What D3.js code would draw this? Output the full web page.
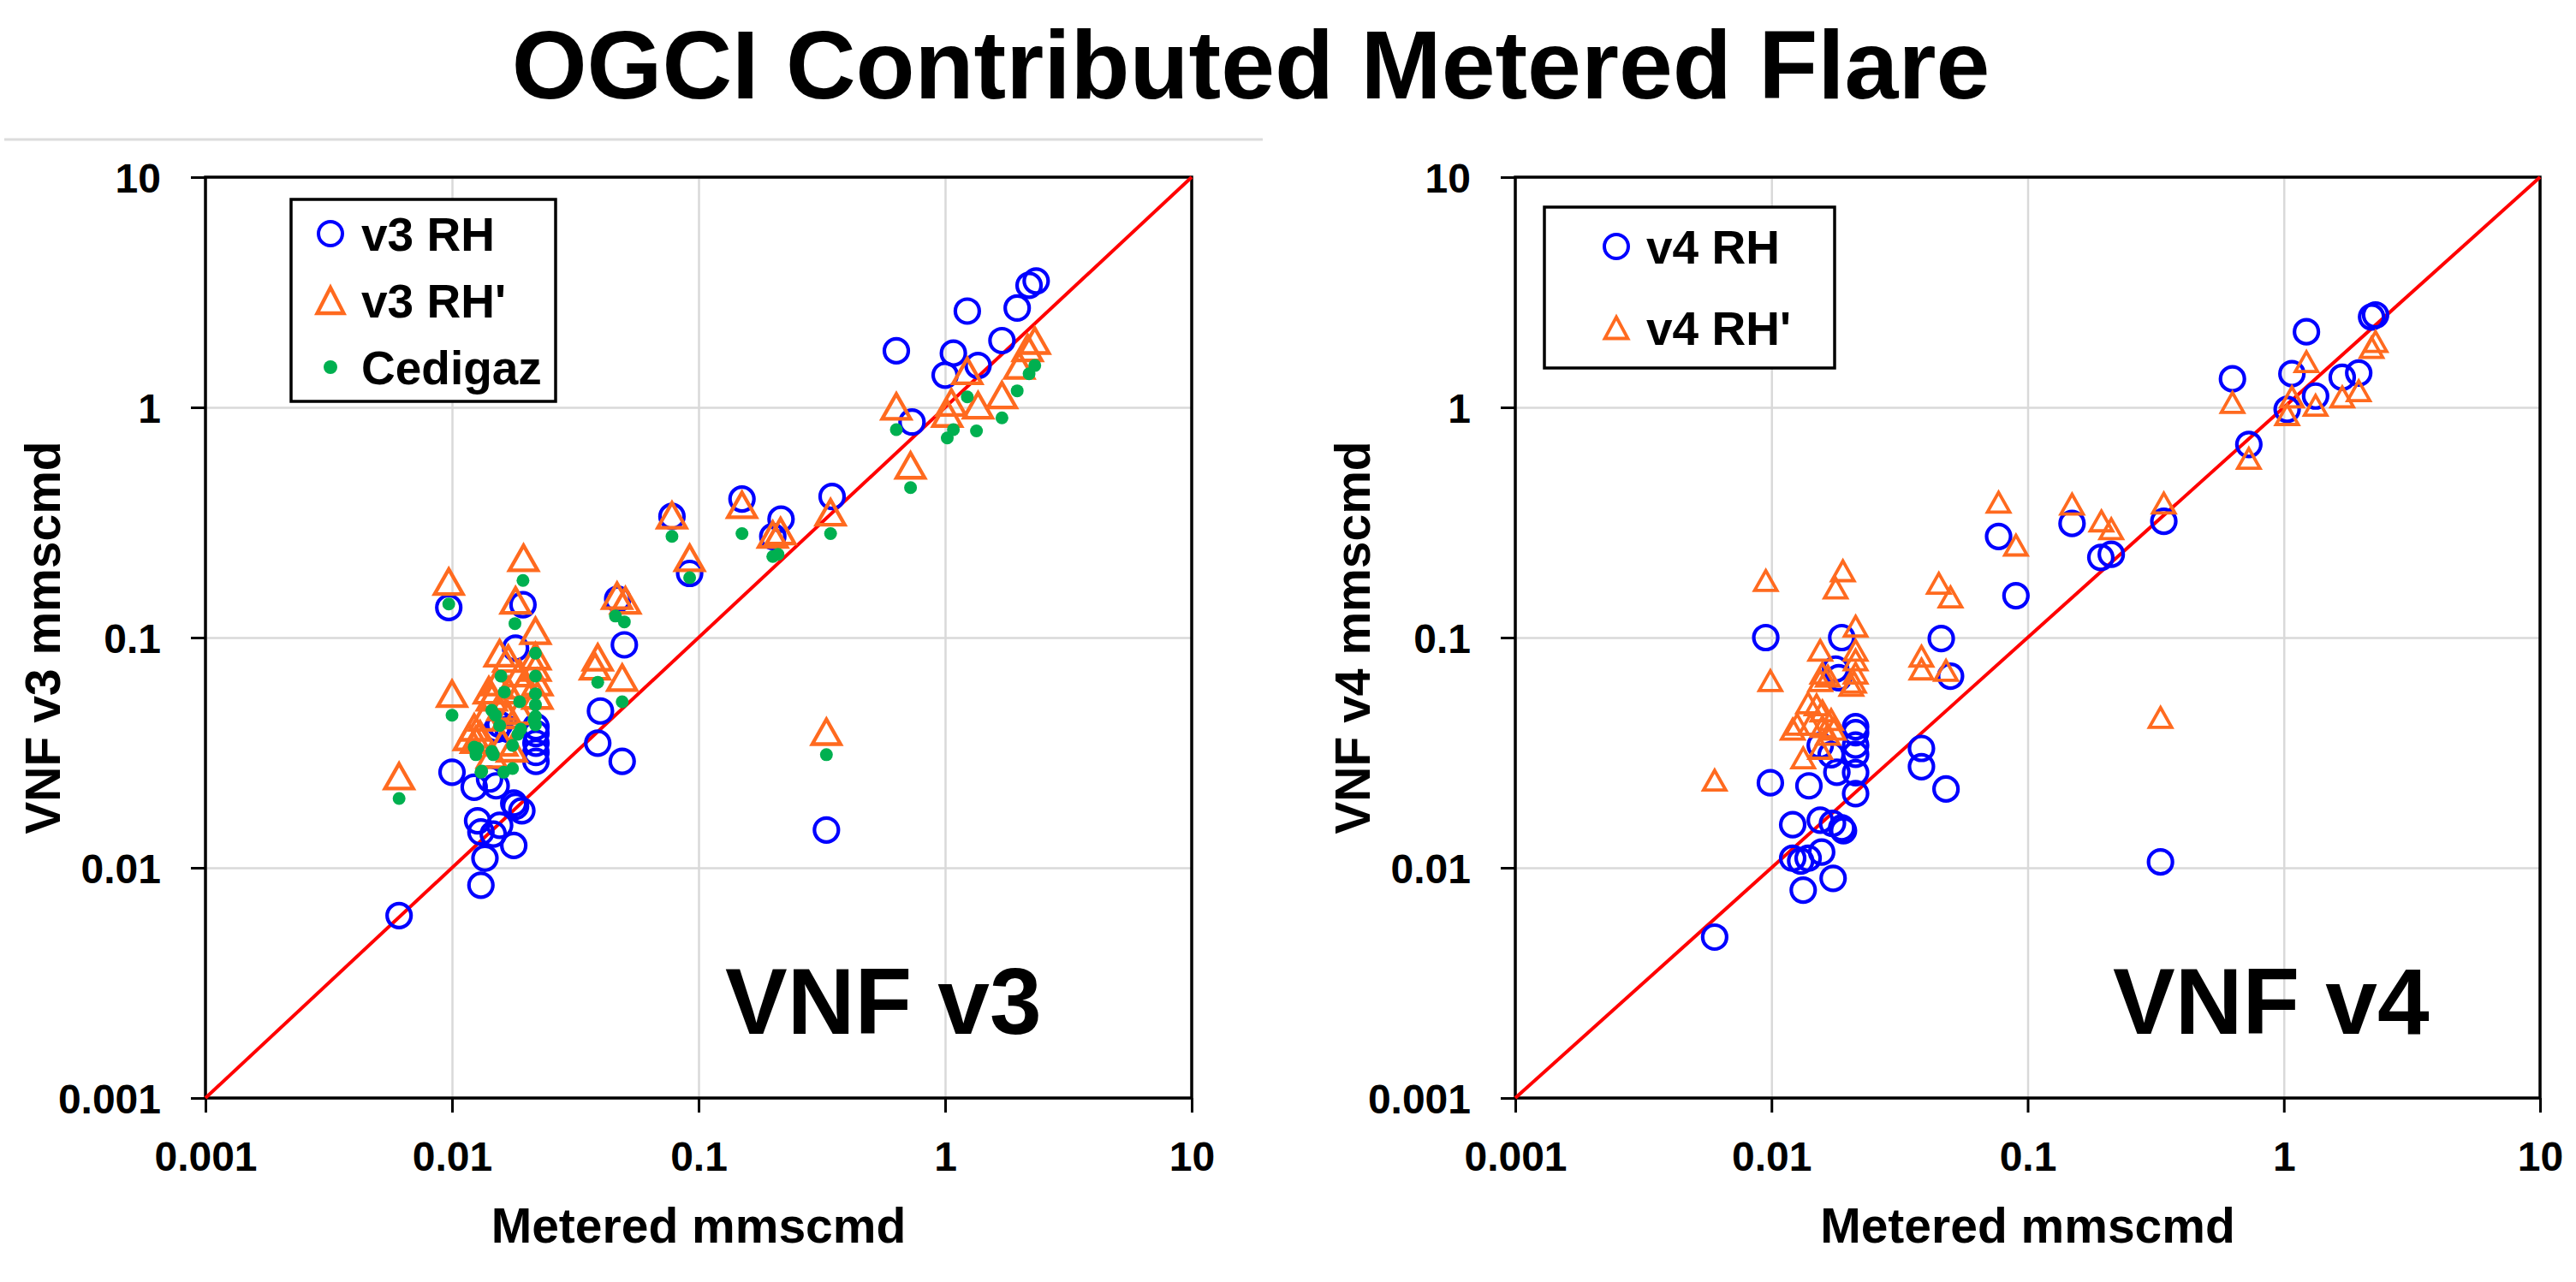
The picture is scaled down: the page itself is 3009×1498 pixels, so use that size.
<!DOCTYPE html>
<html>
<head>
<meta charset="utf-8">
<script src="https://cdn.jsdelivr.net/npm/d3@7"></script>
<style>
  body { margin: 0; background: #fff; }
  text { font-family: "Liberation Sans", Arial, sans-serif; font-weight: bold; fill: #000; }
</style>
</head>
<body>
<div id="chart"></div>
<script>
// axis ticks (log decades) shared by both panels
var tickValues = [0.001, 0.01, 0.1, 1, 10];
var tickLabels = ["0.001", "0.01", "0.1", "1", "10"];
var oneToOne = [0.001, 10];

// VNF v3 panel: [metered, VNF] in mmscmd
var v3RH = [
    [0.0061, 0.0062], [0.0097, 0.135], [0.0100, 0.026], [0.0123, 0.0224], [0.0127, 0.016],
    [0.0131, 0.0084], [0.0131, 0.0143], [0.0136, 0.011], [0.0142, 0.0243], [0.0147, 0.014],
    [0.0151, 0.0227], [0.0152, 0.040], [0.0156, 0.0153], [0.0156, 0.042], [0.0169, 0.040],
    [0.0178, 0.0125], [0.0178, 0.0191], [0.0181, 0.0185], [0.0192, 0.0177], [0.0181, 0.09],
    [0.0194, 0.139], [0.0219, 0.029], [0.0219, 0.0317], [0.0219, 0.0348], [0.0219, 0.0383],
    [0.0219, 0.041], [0.039, 0.0348], [0.040, 0.048], [0.047, 0.147], [0.049, 0.029],
    [0.050, 0.093], [0.078, 0.336], [0.092, 0.19], [0.15, 0.40], [0.20, 0.275],
    [0.216, 0.327], [0.33, 0.0146], [0.348, 0.41], [0.634, 1.76], [0.734, 0.863],
    [1.0, 1.38], [1.08, 1.72], [1.23, 2.62], [1.36, 1.52], [1.70, 1.95],
    [1.96, 2.70], [2.19, 3.39], [2.34, 3.54]
];
var v3RHp = [
    [0.0061, 0.025], [0.0097, 0.175], [0.0100, 0.057], [0.0117, 0.037], [0.0123, 0.0407],
    [0.0125, 0.036], [0.013, 0.038], [0.0135, 0.045], [0.0141, 0.059], [0.0145, 0.031],
    [0.0145, 0.055], [0.0152, 0.064], [0.0156, 0.0855], [0.016, 0.035], [0.016, 0.05],
    [0.0169, 0.081], [0.0169, 0.059], [0.0169, 0.046], [0.0175, 0.033], [0.0181, 0.145],
    [0.0188, 0.070], [0.0188, 0.048], [0.0194, 0.062], [0.0195, 0.222], [0.0218, 0.107],
    [0.0218, 0.083], [0.0218, 0.074], [0.0222, 0.064], [0.0222, 0.056], [0.038, 0.075],
    [0.039, 0.082], [0.0467, 0.152], [0.049, 0.067], [0.0505, 0.145], [0.078, 0.34],
    [0.092, 0.222], [0.15, 0.377], [0.20, 0.28], [0.215, 0.29], [0.33, 0.039],
    [0.343, 0.35], [0.634, 1.01], [0.724, 0.56], [1.02, 0.94], [1.06, 1.05],
    [1.23, 1.44], [1.36, 1.02], [1.70, 1.13], [2.0, 1.52], [2.16, 1.81], [2.31, 1.95]
];
var cedigaz = [
    [0.0061, 0.020], [0.0097, 0.14], [0.0100, 0.046], [0.0123, 0.0334], [0.0125, 0.031],
    [0.0127, 0.033], [0.0131, 0.026], [0.0132, 0.0263], [0.0145, 0.032], [0.0145, 0.0483],
    [0.0147, 0.031], [0.015, 0.046], [0.0156, 0.0415], [0.0158, 0.068], [0.0162, 0.026],
    [0.0163, 0.058], [0.0176, 0.027], [0.0176, 0.034], [0.018, 0.115], [0.0185, 0.038],
    [0.0188, 0.0526], [0.019, 0.040], [0.0194, 0.177], [0.0215, 0.044], [0.0218, 0.0418],
    [0.0218, 0.0455], [0.0218, 0.051], [0.0218, 0.057], [0.0218, 0.068], [0.0218, 0.0855],
    [0.039, 0.064], [0.046, 0.124], [0.049, 0.0526], [0.050, 0.117], [0.078, 0.275],
    [0.092, 0.182], [0.15, 0.283], [0.20, 0.225], [0.21, 0.23], [0.33, 0.031],
    [0.343, 0.283], [0.634, 0.80], [0.724, 0.448], [1.02, 0.736], [1.08, 0.80],
    [1.23, 1.11], [1.34, 0.79], [1.70, 0.90], [1.96, 1.18], [2.19, 1.40], [2.31, 1.52]
];

// VNF v4 panel
var v4RH = [
    [0.006, 0.005], [0.0095, 0.10], [0.0099, 0.0234], [0.0121, 0.011], [0.0121, 0.0154],
    [0.013, 0.0107], [0.0133, 0.008], [0.0139, 0.011], [0.014, 0.0227], [0.0155, 0.0161],
    [0.0155, 0.034], [0.0157, 0.0117], [0.0171, 0.031], [0.0173, 0.0156], [0.0174, 0.009],
    [0.0178, 0.073], [0.018, 0.026], [0.0183, 0.067], [0.0188, 0.0149], [0.0188, 0.10],
    [0.0191, 0.0145], [0.0213, 0.021], [0.0213, 0.0259], [0.0213, 0.0311], [0.0213, 0.0341],
    [0.0213, 0.0386], [0.0213, 0.041], [0.0385, 0.0275], [0.0385, 0.033], [0.046, 0.099],
    [0.048, 0.022], [0.050, 0.068], [0.077, 0.275], [0.09, 0.152], [0.149, 0.313],
    [0.193, 0.223], [0.212, 0.23], [0.33, 0.0106], [0.34, 0.32], [0.63, 1.33],
    [0.73, 0.69], [1.03, 0.98], [1.075, 1.40], [1.225, 2.13], [1.33, 1.12],
    [1.69, 1.35], [1.96, 1.41], [2.20, 2.47], [2.28, 2.52]
];
var v4RHp = [
    [0.006, 0.024], [0.0095, 0.177], [0.0099, 0.065], [0.0121, 0.040], [0.0126, 0.042],
    [0.0133, 0.030], [0.0139, 0.052], [0.0142, 0.042], [0.015, 0.051], [0.0155, 0.033],
    [0.0155, 0.065], [0.0155, 0.088], [0.0158, 0.041], [0.0158, 0.048], [0.0158, 0.070],
    [0.0166, 0.038], [0.0166, 0.068], [0.0171, 0.044], [0.0175, 0.040], [0.0178, 0.164],
    [0.019, 0.195], [0.0205, 0.062], [0.021, 0.064], [0.0213, 0.070], [0.0213, 0.080],
    [0.0213, 0.088], [0.0213, 0.112], [0.0385, 0.073], [0.0385, 0.083], [0.045, 0.172],
    [0.048, 0.072], [0.050, 0.150], [0.077, 0.387], [0.09, 0.252], [0.149, 0.38],
    [0.194, 0.321], [0.212, 0.297], [0.33, 0.045], [0.34, 0.384], [0.63, 1.05],
    [0.73, 0.60], [1.03, 0.93], [1.075, 1.11], [1.225, 1.58], [1.33, 1.02],
    [1.69, 1.11], [1.96, 1.18], [2.20, 1.82], [2.28, 1.93]
];

var W = 3009, H = 1498;
var BLUE = "#0000ff", ORANGE = "#ff6a1f", GREEN = "#00b050", RED = "#ff0000", GRID = "#d9d9d9";

var svg = d3.select("#chart").append("svg")
    .attr("width", W)
    .attr("height", H);

// triangle centred on its bounding box
function tri(w, h) {
    return "M0," + (-h / 2) + "L" + (w / 2) + "," + (h / 2) + "L" + (-w / 2) + "," + (h / 2) + "Z";
}

// main title
svg.append("text")
    .attr("x", 1461)
    .attr("y", 115)
    .attr("text-anchor", "middle")
    .attr("font-size", "113px")
    .text("OGCI Contributed Metered Flare");

// faint frame edge under the title
svg.append("line")
    .attr("x1", 5).attr("x2", 1475)
    .attr("y1", 163).attr("y2", 163)
    .attr("stroke", "#dcdcdc")
    .attr("stroke-width", 3);

function drawPanel(p) {
    var x = d3.scaleLog().domain([0.001, 10]).range([p.left, p.right]);
    var y = d3.scaleLog().domain([0.001, 10]).range([p.bottom, p.top]);
    var h = p.bottom - p.top, w = p.right - p.left;
    var g = svg.append("g");

    // gridlines
    g.append("g")
        .attr("transform", `translate(0,${p.bottom})`)
        .call(d3.axisBottom(x).tickValues(tickValues).tickSize(-h).tickFormat(""))
        .call(a => a.select(".domain").remove())
        .selectAll("line").attr("stroke", GRID).attr("stroke-width", 2.5);
    g.append("g")
        .attr("transform", `translate(${p.left},0)`)
        .call(d3.axisLeft(y).tickValues(tickValues).tickSize(-w).tickFormat(""))
        .call(a => a.select(".domain").remove())
        .selectAll("line").attr("stroke", GRID).attr("stroke-width", 2.5);

    // axes with outside ticks
    var xa = g.append("g")
        .attr("transform", `translate(0,${p.bottom})`)
        .call(d3.axisBottom(x).tickValues(tickValues).tickFormat((d, i) => tickLabels[i]).tickSize(17).tickSizeOuter(0));
    xa.selectAll("line").attr("stroke", "#000").attr("stroke-width", 3);
    xa.selectAll("text").attr("y", 85).attr("dy", null).attr("font-size", "48px")
        .style("font-family", '"Liberation Sans", Arial, sans-serif').style("font-weight", "bold");
    xa.select(".domain").remove();

    var ya = g.append("g")
        .attr("transform", `translate(${p.left},0)`)
        .call(d3.axisLeft(y).tickValues(tickValues).tickFormat((d, i) => tickLabels[i]).tickSize(17).tickSizeOuter(0));
    ya.selectAll("line").attr("stroke", "#000").attr("stroke-width", 3);
    ya.selectAll("text").attr("x", -52).attr("dy", "0.36em").attr("font-size", "48px")
        .style("font-family", '"Liberation Sans", Arial, sans-serif').style("font-weight", "bold");
    ya.select(".domain").remove();

    // plot frame
    g.append("rect")
        .attr("x", p.left).attr("y", p.top)
        .attr("width", w).attr("height", h)
        .attr("fill", "none")
        .attr("stroke", "#000")
        .attr("stroke-width", 3.5);

    // 1:1 line
    g.append("line")
        .attr("x1", x(oneToOne[0])).attr("y1", y(oneToOne[0]))
        .attr("x2", x(oneToOne[1])).attr("y2", y(oneToOne[1]))
        .attr("stroke", RED)
        .attr("stroke-width", 4);

    // series: circles, then triangles, then dots
    g.append("g").selectAll("circle")
        .data(p.rh).enter().append("circle")
        .attr("cx", d => x(d[0])).attr("cy", d => y(d[1]))
        .attr("r", 14)
        .attr("fill", "none")
        .attr("stroke", BLUE)
        .attr("stroke-width", 4.2);

    g.append("g").selectAll("path")
        .data(p.rhp).enter().append("path")
        .attr("transform", d => `translate(${x(d[0])},${y(d[1])})`)
        .attr("d", tri(p.triW, p.triH))
        .attr("fill", "none")
        .attr("stroke", ORANGE)
        .attr("stroke-width", p.triSW)
        .attr("stroke-linejoin", "miter");

    if (p.ced) {
        g.append("g").selectAll("circle")
            .data(p.ced).enter().append("circle")
            .attr("cx", d => x(d[0])).attr("cy", d => y(d[1]))
            .attr("r", 7.5)
            .attr("fill", GREEN);
    }

    // axis titles
    g.append("text")
        .attr("x", (p.left + p.right) / 2)
        .attr("y", 1452)
        .attr("text-anchor", "middle")
        .attr("font-size", "57px")
        .text("Metered mmscmd");
    g.append("text")
        .attr("transform", `translate(${p.yTitleX},${(p.top + p.bottom) / 2}) rotate(-90)`)
        .attr("text-anchor", "middle")
        .attr("font-size", "57px")
        .text(p.yTitle);

    // version label inside plot
    g.append("text")
        .attr("x", p.noteX)
        .attr("y", 1208)
        .attr("font-size", "109px")
        .text(p.note);

    // legend
    var lg = g.append("g");
    lg.append("rect")
        .attr("x", p.leg.x).attr("y", p.leg.y)
        .attr("width", p.leg.w).attr("height", p.leg.h)
        .attr("fill", "#fff")
        .attr("stroke", "#000")
        .attr("stroke-width", 3.5);
    p.leg.items.forEach(function (it, i) {
        var cy = p.leg.rows[i];
        if (it.type === "circle") {
            lg.append("circle").attr("cx", p.leg.mx).attr("cy", cy).attr("r", 14)
                .attr("fill", "none").attr("stroke", BLUE).attr("stroke-width", 4);
        } else if (it.type === "tri") {
            lg.append("path").attr("transform", `translate(${p.leg.mx},${cy})`)
                .attr("d", tri(p.leg.triW, p.leg.triH))
                .attr("fill", "none").attr("stroke", ORANGE).attr("stroke-width", p.triSW);
        } else {
            lg.append("circle").attr("cx", p.leg.mx).attr("cy", cy).attr("r", 8).attr("fill", GREEN);
        }
        lg.append("text")
            .attr("x", p.leg.tx)
            .attr("y", cy)
            .attr("dy", "0.36em")
            .attr("font-size", "55px")
            .text(it.label);
    });
}

drawPanel({
    left: 240, right: 1392, top: 207, bottom: 1283,
    rh: v3RH, rhp: v3RHp, ced: cedigaz,
    triW: 33, triH: 29, triSW: 4.3,
    yTitle: "VNF v3 mmscmd", yTitleX: 70,
    note: "VNF v3", noteX: 847,
    leg: {
        x: 340, y: 233, w: 309, h: 236, mx: 386, tx: 422,
        rows: [273, 351, 429], triW: 31, triH: 30,
        items: [
            { type: "circle", label: "v3 RH" },
            { type: "tri", label: "v3 RH'" },
            { type: "dot", label: "Cedigaz" }
        ]
    }
});

drawPanel({
    left: 1770, right: 2967, top: 207, bottom: 1283,
    rh: v4RH, rhp: v4RHp, ced: null,
    triW: 26, triH: 23, triSW: 3.8,
    yTitle: "VNF v4 mmscmd", yTitleX: 1600,
    note: "VNF v4", noteX: 2468,
    leg: {
        x: 1804, y: 242, w: 339, h: 188, mx: 1888, tx: 1923,
        rows: [288, 383], triW: 27, triH: 25,
        items: [
            { type: "circle", label: "v4 RH" },
            { type: "tri", label: "v4 RH'" }
        ]
    }
});
</script>
</body>
</html>
